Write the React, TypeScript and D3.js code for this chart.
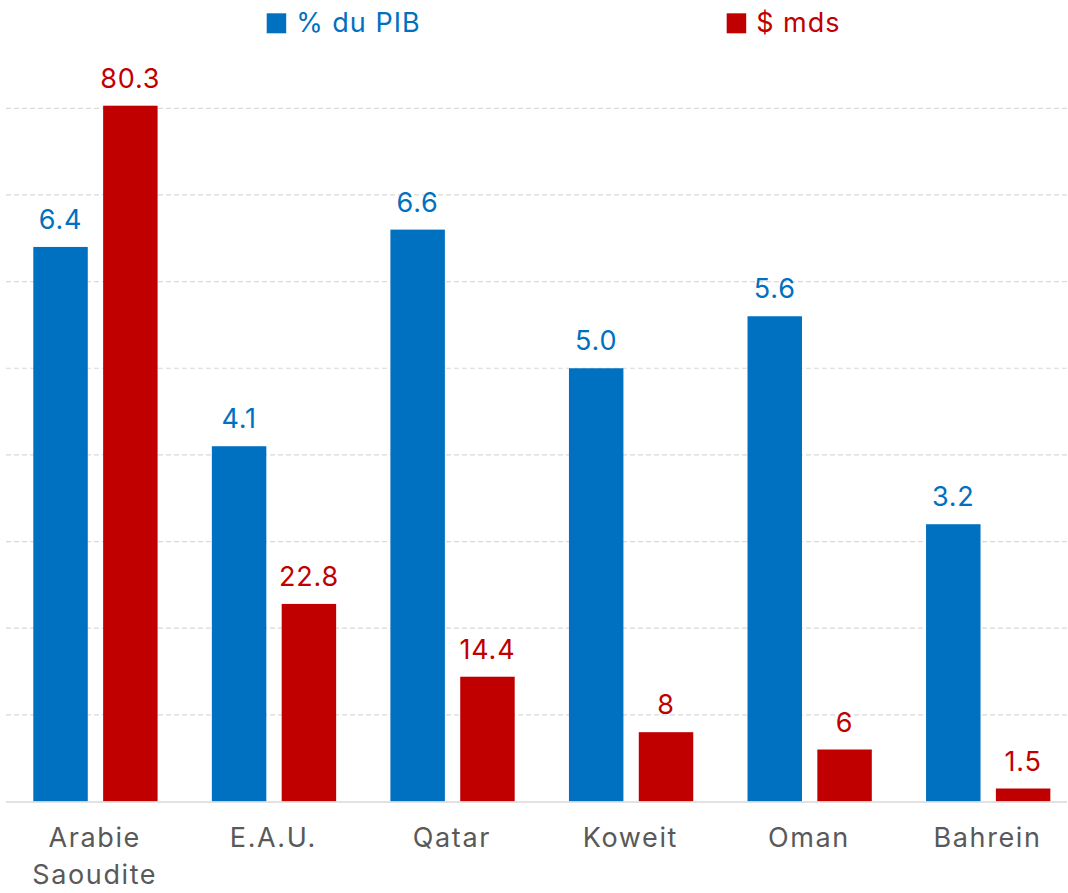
import React from "react";
import * as d3 from "d3";

const categories: string[][] = [
  ["Arabie", "Saoudite"],
  ["E.A.U."],
  ["Qatar"],
  ["Koweit"],
  ["Oman"],
  ["Bahrein"],
];
const pctGdp: number[] = [6.4, 4.1, 6.6, 5.0, 5.6, 3.2];
const pctGdpLabels: string[] = ["6.4", "4.1", "6.6", "5.0", "5.6", "3.2"];
const usdBn: number[] = [80.3, 22.8, 14.4, 8, 6, 1.5];
const usdBnLabels: string[] = ["80.3", "22.8", "14.4", "8", "6", "1.5"];
const seriesNames: string[] = ["% du PIB", "$ mds"];
const gridTicks: number[] = [1, 2, 3, 4, 5, 6, 7, 8];

const W = 1068;
const H = 893;
const BLUE = "#0070C0";
const RED = "#C00000";
const FONT = "Inter, 'Noto Sans', sans-serif";

export default function App() {
  const left = 6;
  const gridRight = 1067;
  const baseY = 801.5;
  const topY = 108.3;

  const x = d3
    .scaleBand<number>()
    .domain(d3.range(categories.length))
    .range([left, left + 178.55 * categories.length])
    .paddingInner(0)
    .paddingOuter(0);
  const sub = d3
    .scaleBand<number>()
    .domain([0, 1])
    .range([27.3, 27.3 + 124.3])
    .paddingInner(0.22);

  const yBlue = d3.scaleLinear().domain([0, 8]).range([baseY, topY]);
  const yRed = d3.scaleLinear().domain([0, 80]).range([baseY, topY]);

  const series = [
    { values: pctGdp, labels: pctGdpLabels, y: yBlue, color: BLUE },
    { values: usdBn, labels: usdBnLabels, y: yRed, color: RED },
  ];

  const legendX = [266.7, 726.7];

  return (
    <svg
      width={W}
      height={H}
      style={{ position: "absolute", left: 0, top: 0, background: "#fff" }}
      fontFamily={FONT}
    >
      {/* dashed horizontal gridlines */}
      {gridTicks.map((t) => (
        <line
          key={t}
          x1={left}
          x2={gridRight}
          y1={yBlue(t)}
          y2={yBlue(t)}
          stroke="#d9d9d9"
          strokeWidth={1.2}
          strokeDasharray="5,3"
        />
      ))}

      {/* bars */}
      {series.map((s, si) =>
        s.values.map((v, i) => {
          const bx = (x(i) as number) + (sub(si) as number);
          const by = s.y(v);
          return (
            <g key={`${si}-${i}`}>
              <rect
                x={bx}
                y={by}
                width={sub.bandwidth()}
                height={baseY - by}
                fill={s.color}
              />
              <text
                x={bx + sub.bandwidth() / 2}
                y={by - 18}
                textAnchor="middle"
                fill={s.color}
                fontSize={27}
                letterSpacing={0.8}
              >
                {s.labels[i]}
              </text>
            </g>
          );
        })
      )}

      {/* baseline */}
      <line
        x1={left}
        x2={gridRight}
        y1={baseY + 0.5}
        y2={baseY + 0.5}
        stroke="#d9d9d9"
        strokeWidth={1.5}
      />

      {/* category labels */}
      {categories.map((lines, i) => {
        const cx = (x(i) as number) + x.bandwidth() / 2 - 0.5;
        return (
          <text
            key={i}
            x={cx}
            y={847}
            textAnchor="middle"
            fill="#595959"
            fontSize={27}
            letterSpacing={1.6}
          >
            {lines.map((l, j) => (
              <tspan key={j} x={cx} dy={j === 0 ? 0 : 37}>
                {l}
              </tspan>
            ))}
          </text>
        );
      })}

      {/* legend */}
      {seriesNames.map((n, i) => (
        <g key={n}>
          <rect x={legendX[i]} y={13.3} width={19.5} height={20} fill={series[i].color} />
          <text
            x={legendX[i] + 29.5}
            y={32}
            fill={series[i].color}
            fontSize={27}
            letterSpacing={1}
          >
            {n}
          </text>
        </g>
      ))}
    </svg>
  );
}
